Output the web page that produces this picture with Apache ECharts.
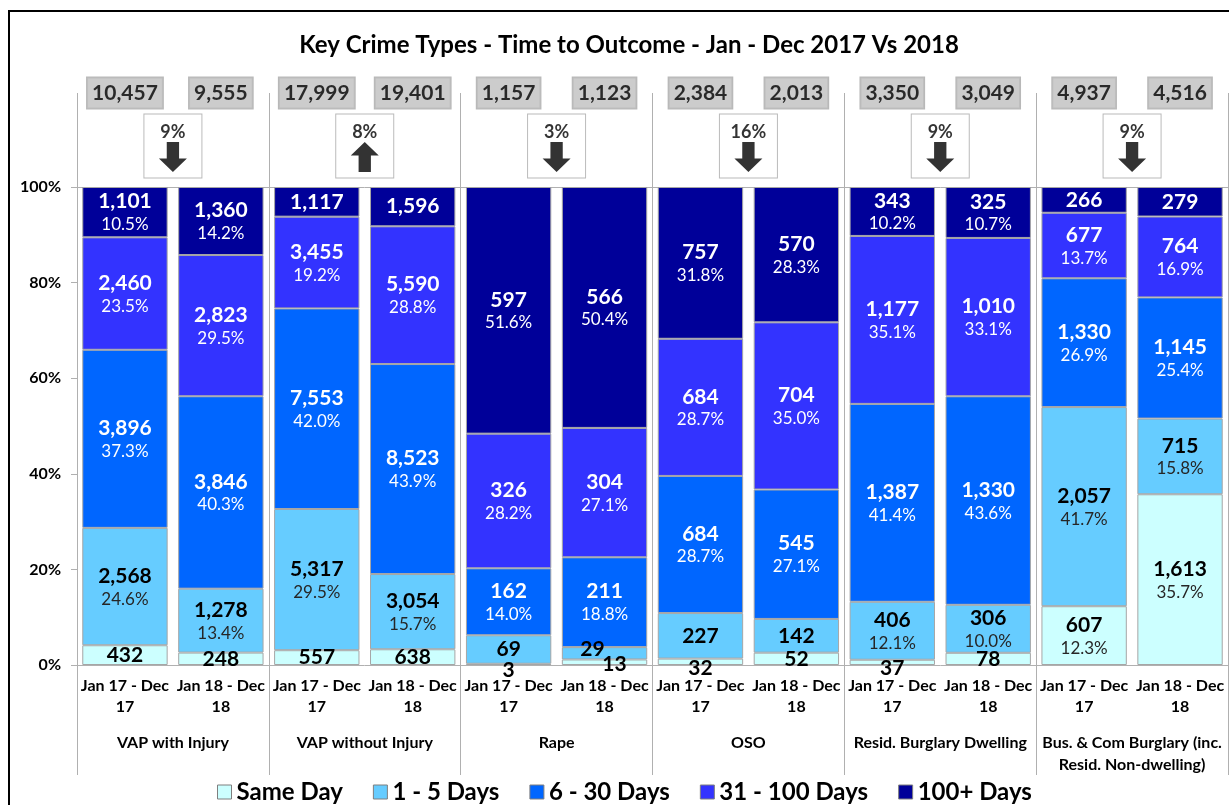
<!DOCTYPE html>
<html>
<head>
<meta charset="utf-8">
<script src="https://cdn.jsdelivr.net/npm/echarts@6/dist/echarts.min.js"></script>
<style>html,body{margin:0;padding:0;background:#fff}#chart{width:1229px;height:805px}</style>
</head>
<body>
<div id="chart"></div>
<script>
var dom = document.getElementById('chart');
var myChart = echarts.init(dom);
var font = 'Lato, "Noto Sans", sans-serif';

// one label per bar, two bars per crime type
var periods = ['Jan 17 - Dec\n17', 'Jan 18 - Dec\n18', 'Jan 17 - Dec\n17', 'Jan 18 - Dec\n18',
               'Jan 17 - Dec\n17', 'Jan 18 - Dec\n18', 'Jan 17 - Dec\n17', 'Jan 18 - Dec\n18',
               'Jan 17 - Dec\n17', 'Jan 18 - Dec\n18', 'Jan 17 - Dec\n17', 'Jan 18 - Dec\n18'];
var crimeTypes = ['VAP with Injury', 'VAP without Injury', 'Rape', 'OSO',
                  'Resid. Burglary Dwelling', 'Bus. & Com Burglary (inc.\nResid. Non-dwelling)'];
var bands = ['Same Day', '1 - 5 Days', '6 - 30 Days', '31 - 100 Days', '100+ Days'];

var sameDay     = [432, 248, 557, 638, 3, 13, 32, 52, 37, 78, 607, 1613];
var days1to5    = [2568, 1278, 5317, 3054, 69, 29, 227, 142, 406, 306, 2057, 715];
var days6to30   = [3896, 3846, 7553, 8523, 162, 211, 684, 545, 1387, 1330, 1330, 1145];
var days31to100 = [2460, 2823, 3455, 5590, 326, 304, 684, 704, 1177, 1010, 677, 764];
var days100plus = [1101, 1360, 1117, 1596, 597, 566, 757, 570, 343, 325, 266, 279];
var totals      = [10457, 9555, 17999, 19401, 1157, 1123, 2384, 2013, 3350, 3049, 4937, 4516];
var changePct   = [-9, 8, -3, -16, -9, -9];

var bandData = [sameDay, days1to5, days6to30, days31to100, days100plus];
var colors = ['#ccffff', '#66ccff', '#0066ff', '#3333ff', '#000099'];
var textCol = ['#000', '#000', '#fff', '#fff', '#fff'];
var pctCol = ['#262626', '#262626', '#fff', '#fff', '#fff'];
// small label nudges where Excel pushed labels off tiny segments
var nudge = {'0-5': [10, 2], '1-5': [-12, -4]};

function fmt(n) { return n.toLocaleString('en-US'); }

var arrowPath = 'path://M50,0 L100,45 L72,45 L72,100 L28,100 L28,45 L0,45 Z';

var series = bands.map(function (name, s) {
    return {
        name: name,
        type: 'bar',
        stack: 'all',
        xAxisIndex: 0,
        yAxisIndex: 0,
        barCategoryGap: '11%',
        itemStyle: {color: colors[s], borderColor: '#a6a6a6', borderWidth: 1},
        label: {
            show: true,
            position: 'inside',
            formatter: function (p) {
                var pct = p.data.value;
                if (pct >= 10) {
                    return '{v|' + fmt(p.data.count) + '}\n{p|' + pct.toFixed(1) + '%}';
                }
                return '{v|' + fmt(p.data.count) + '}';
            },
            rich: {
                v: {fontSize: 21, fontWeight: 'bold', color: textCol[s], fontFamily: font, lineHeight: 25},
                p: {fontSize: 17, color: pctCol[s], fontFamily: font, lineHeight: 21}
            }
        },
        data: bandData[s].map(function (v, i) {
            var pct = v / totals[i] * 100;
            var item = {value: pct, count: v};
            var key = s + '-' + i;
            if (nudge[key]) {
                item.label = {offset: nudge[key]};
            } else if (s === 0 && pct < 1.5) {
                item.label = {offset: [0, 6]};
            }
            return item;
        })
    };
});

series.push({
    type: 'scatter',
    xAxisIndex: 3,
    yAxisIndex: 1,
    symbolSize: 1,
    silent: true,
    itemStyle: {color: 'rgba(0,0,0,0)'},
    label: {
        show: true,
        position: 'inside',
        formatter: function (p) { return fmt(p.value[2]); },
        backgroundColor: '#bfbfbf',
        borderColor: '#a6a6a6',
        borderWidth: 1,
        padding: [6, 5, 4, 5],
        fontSize: 21,
        fontWeight: 'bold',
        color: '#000',
        fontFamily: font
    },
    data: totals.map(function (t, i) { return [i, 1, t]; })
});

series.push({
    type: 'scatter',
    xAxisIndex: 2,
    yAxisIndex: 1,
    symbol: 'rect',
    symbolSize: [58, 64],
    silent: true,
    itemStyle: {color: '#fff', borderColor: '#a6a6a6', borderWidth: 1},
    label: {
        show: true,
        position: 'inside',
        offset: [0, -14],
        formatter: function (p) { return Math.abs(p.value[2]) + '%'; },
        fontSize: 18,
        fontWeight: 'bold',
        color: '#000',
        fontFamily: font
    },
    data: changePct.map(function (c, i) { return [i, 0.436, c]; })
});

series.push({
    type: 'scatter',
    xAxisIndex: 2,
    yAxisIndex: 1,
    symbol: arrowPath,
    symbolSize: [28, 30],
    silent: true,
    z: 3,
    itemStyle: {color: '#000'},
    data: changePct.map(function (c, i) {
        return {value: [i, 0.32], symbolRotate: c < 0 ? 180 : 0};
    })
});

var grey = '#b0b0b0';

option = {
    animation: false,
    backgroundColor: '#fff',
    textStyle: {fontFamily: font},
    title: {
        text: 'Key Crime Types - Time to Outcome - Jan - Dec 2017 Vs 2018',
        left: 624,
        textAlign: 'center',
        top: 28,
        textStyle: {fontSize: 24, fontWeight: 'bold', color: '#000', fontFamily: font}
    },
    legend: {
        data: bands,
        left: 212,
        top: 775,
        icon: 'rect',
        itemWidth: 14,
        itemHeight: 14,
        itemGap: 30,
        textStyle: {fontSize: 24, fontWeight: 'bold', color: '#000', fontFamily: font},
        itemStyle: {borderColor: '#7f7f7f', borderWidth: 1}
    },
    grid: [
        {left: 77, right: 1, top: 187, bottom: 140, outerBoundsMode: 'none'},
        {left: 77, right: 1, top: 93, height: 94, outerBoundsMode: 'none'}
    ],
    xAxis: [
        {
            type: 'category', gridIndex: 0, data: periods, position: 'bottom',
            axisLine: {lineStyle: {color: grey}},
            axisTick: {show: false},
            axisLabel: {interval: 0, fontSize: 16, fontWeight: 'bold', color: '#000', lineHeight: 21, margin: 10, fontFamily: font}
        },
        {
            type: 'category', gridIndex: 0, data: crimeTypes, position: 'bottom',
            axisLine: {show: false},
            axisTick: {show: true, length: 110, interval: 0, lineStyle: {color: grey}},
            splitLine: {show: true, interval: 0, lineStyle: {color: grey}},
            axisLabel: {interval: 0, fontSize: 16, fontWeight: 'bold', color: '#000', lineHeight: 22, margin: 67, fontFamily: font}
        },
        {
            type: 'category', gridIndex: 1, data: crimeTypes, position: 'top',
            axisLine: {show: true, lineStyle: {color: grey}},
            axisTick: {show: false},
            axisLabel: {show: false, interval: 0},
            splitLine: {show: true, interval: 0, lineStyle: {color: grey}}
        },
        {
            type: 'category', gridIndex: 1, data: periods, show: false
        }
    ],
    yAxis: [
        {
            type: 'value', gridIndex: 0, min: 0, max: 100, interval: 20,
            axisLine: {show: true, lineStyle: {color: grey}},
            axisTick: {show: true, length: 6, lineStyle: {color: grey}},
            splitLine: {show: false},
            axisLabel: {formatter: '{value}%', fontSize: 16, fontWeight: 'bold', color: '#000', margin: 16, fontFamily: font}
        },
        {type: 'value', gridIndex: 1, min: 0, max: 1, show: false}
    ],
    graphic: [{
        type: 'rect',
        silent: true,
        z: -10,
        shape: {x: 9, y: 11, width: 1240, height: 820},
        style: {fill: 'none', stroke: '#000', lineWidth: 2}
    }],
    series: series
};

if (option && typeof option === 'object') {
    myChart.setOption(option, true);
}
</script>
</body>
</html>
